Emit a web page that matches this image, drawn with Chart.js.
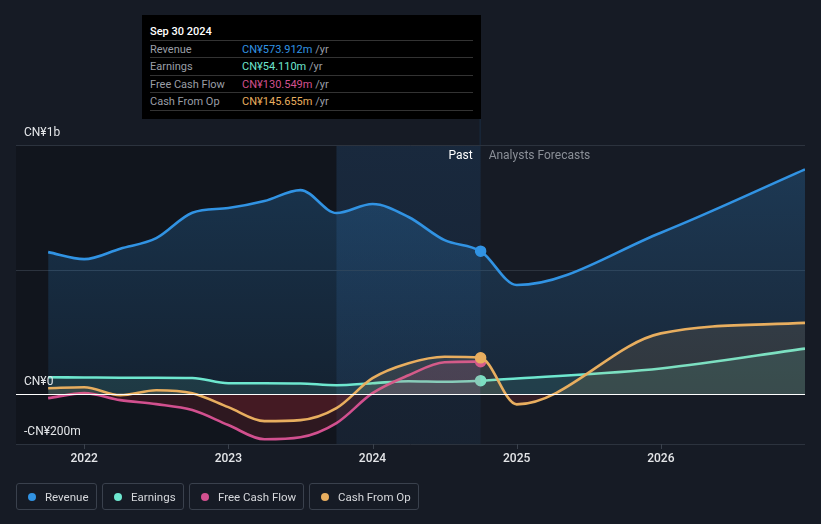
<!DOCTYPE html>
<html>
<head>
<meta charset="utf-8">
<script src="https://cdn.jsdelivr.net/npm/chart.js@4.4.1/dist/chart.umd.min.js"></script>
<style>
  html, body { margin: 0; padding: 0; background: #161b25; }
  body { width: 821px; height: 524px; position: relative; overflow: hidden; font-family: Roboto, "Noto Sans", sans-serif; }
  #wrap { position: absolute; left: 0; top: 0; width: 821px; height: 524px; }
  #tip { position: absolute; left: 142px; top: 15px; width: 339px; height: 104px; background: #000; box-sizing: border-box; padding: 9px 8px 0 8px; }
  #tip .title { color: #fff; font-size: 11px; font-weight: 500; height: 17px; line-height: 15px; box-sizing: border-box; border-bottom: 1px solid #333; }
  #tip .row { height: 17.4px; line-height: 17px; box-sizing: border-box; border-bottom: 1px solid #333; font-size: 11px; position: relative; color: #9a9ea6; }
  #tip .row .v { position: absolute; left: 92px; }
  #tip .row .v span { color: #9a9ea6; }
  #legend { position: absolute; left: 16px; top: 483px; display: flex; gap: 5px; }
  .item { height: 27px; box-sizing: border-box; border: 1px solid #3a414d; border-radius: 3px; color: #d6d8dc; font-size: 11.5px; display: flex; align-items: center; padding: 0 0 0 11px; white-space: nowrap; flex-shrink: 0; overflow: hidden; }
  .item i { display: inline-block; width: 8px; height: 8px; border-radius: 50%; margin-right: 9px; flex-shrink: 0; }
</style>
</head>
<body>
<div id="wrap"><canvas id="myChart" width="821" height="524"></canvas></div>
<div id="tip">
  <div class="title">Sep 30 2024</div>
  <div class="row">Revenue<span class="v" style="color:#3193e3">CN¥573.912m <span>/yr</span></span></div>
  <div class="row">Earnings<span class="v" style="color:#6ee7cf">CN¥54.110m <span>/yr</span></span></div>
  <div class="row">Free Cash Flow<span class="v" style="color:#d2508f">CN¥130.549m <span>/yr</span></span></div>
  <div class="row">Cash From Op<span class="v" style="color:#e8ae5f">CN¥145.655m <span>/yr</span></span></div>
</div>
<div id="legend">
  <div class="item" style="width:81px"><i style="background:#3193e3"></i>Revenue</div>
  <div class="item" style="width:82px"><i style="background:#6ee7cf"></i>Earnings</div>
  <div class="item" style="width:115px"><i style="background:#d2508f"></i>Free Cash Flow</div>
  <div class="item" style="width:110px"><i style="background:#e8ae5f"></i>Cash From Op</div>
</div>
<script>
// time axis in decimal years (quarter ends past, year ends forecast)
var pastDates = [2021.75, 2022.0, 2022.25, 2022.5, 2022.75, 2023.0, 2023.25, 2023.5, 2023.75, 2024.0, 2024.25, 2024.5, 2024.75];
var forecastDates = [2025.0, 2026.0, 2027.0];

// values in CN¥ millions
var revenuePast = [570, 542, 584, 626, 728, 747, 775, 819, 727, 763, 711, 618, 573.912];
var revenueForecast = [438, 648, 902];
var earningsPast = [68, 67, 66, 66, 65, 44, 44, 43, 36, 44, 52, 50, 54.11];
var earningsForecast = [63, 103, 183];
var fcfPast = [-16, 4, -24, -40, -64, -124, -181, -173, -116, 4, 76, 128, 130.549];
var cfoPast = [24, 28, -4, 16, 4, -52, -108, -104, -56, 64, 124, 150, 145.655];
var cfoForecast = [-41, 244, 286];

var xTicks = [2022, 2023, 2024, 2025, 2026];
var yTicks = [1000, 500, 0, -200];
var yLabels = { '1000': 'CN¥1b', '0': 'CN¥0', '-200': '-CN¥200m' };
var bandStart = 2023.75, bandEnd = 2024.75;

function toPoints(xs, ys) {
    return xs.map(function (x, i) { return { x: x, y: ys[i] }; });
}

function lastDot(n) {
    var r = [];
    for (var i = 0; i < n; i++) r.push(i == pastDates.length - 1 ? 5 : 0);
    return r;
}

var allDates = pastDates.concat(forecastDates);

var decor = {
    id: 'decor',
    beforeDraw: function (chart) {
        var c = chart.ctx;
        c.save();
        c.fillStyle = '#161b25';
        c.fillRect(0, 0, chart.width, chart.height);
        c.restore();
    },
    beforeDatasetsDraw: function (chart) {
        var c = chart.ctx, a = chart.chartArea, xs = chart.scales.x, ys = chart.scales.y;
        var b0 = xs.getPixelForValue(bandStart), b1 = xs.getPixelForValue(bandEnd);
        c.save();
        // darker past area
        c.fillStyle = 'rgba(0,0,0,0.2)';
        c.fillRect(a.left, a.top, b0 - a.left, a.bottom - a.top);
        // highlighted last year
        var g = c.createLinearGradient(0, a.top, 0, a.bottom);
        g.addColorStop(0, 'rgba(40,120,200,0.15)');
        g.addColorStop(1, 'rgba(40,120,200,0.07)');
        c.fillStyle = g;
        c.fillRect(b0, a.top, b1 - b0, a.bottom - a.top);
        c.fillStyle = 'rgba(40,120,200,0.18)';
        c.fillRect(b1 - 1, 118, 1, a.top - 118);
        // grid
        c.strokeStyle = '#2c333e';
        c.lineWidth = 1;
        yTicks.forEach(function (v) {
            if (v == 0) return;
            var y = Math.round(ys.getPixelForValue(v)) + 0.5;
            c.beginPath(); c.moveTo(a.left, y); c.lineTo(a.right, y); c.stroke();
        });
        c.strokeStyle = '#3a414c';
        xTicks.forEach(function (v) {
            var x = Math.round(xs.getPixelForValue(v)) + 0.5;
            c.beginPath(); c.moveTo(x, a.bottom); c.lineTo(x, a.bottom + 5); c.stroke();
        });
        c.restore();
    },
    afterDatasetsDraw: function (chart) {
        var c = chart.ctx, a = chart.chartArea, xs = chart.scales.x, ys = chart.scales.y;
        c.save();
        var z = Math.round(ys.getPixelForValue(0)) + 0.5;
        c.strokeStyle = '#ffffff';
        c.lineWidth = 1.2;
        c.beginPath(); c.moveTo(a.left, z); c.lineTo(a.right, z); c.stroke();
        c.font = '12px Roboto';
        c.textBaseline = 'middle';
        c.fillStyle = '#e4e6e9';
        Object.keys(yLabels).forEach(function (k) {
            var y = ys.getPixelForValue(Number(k));
            c.fillText(yLabels[k], 24, y - 12);
        });
        c.textAlign = 'center';
        c.font = '500 12px Roboto';
        xTicks.forEach(function (v) {
            c.fillText(String(v), xs.getPixelForValue(v), a.bottom + 15);
        });
        var b1 = xs.getPixelForValue(bandEnd);
        c.font = '12px Roboto';
        c.textAlign = 'right';
        c.fillStyle = '#ffffff';
        c.fillText('Past', b1 - 8, a.top + 11);
        c.textAlign = 'left';
        c.fillStyle = '#8a8f97';
        c.fillText('Analysts Forecasts', b1 + 8, a.top + 11);
        c.restore();
    }
};

function renderChart() {
    var ctx = document.getElementById('myChart').getContext('2d');
    var revFill = ctx.createLinearGradient(0, 145, 0, 394);
    revFill.addColorStop(0, 'rgba(49,147,227,0.26)');
    revFill.addColorStop(1, 'rgba(49,147,227,0.10)');

    var myChart = new Chart(ctx, {
        type: 'line',
        data: {
            datasets: [
                {
                    label: 'Cash From Op',
                    data: toPoints(allDates, cfoPast.concat(cfoForecast)),
                    borderColor: '#e8ae5f',
                    fill: { target: 'origin', above: 'rgba(232,174,95,0.12)', below: 'rgba(150,35,45,0.22)' },
                    pointRadius: lastDot(allDates.length),
                    pointBackgroundColor: '#e8ae5f',
                },
                {
                    label: 'Free Cash Flow',
                    data: toPoints(pastDates, fcfPast),
                    borderColor: '#d2508f',
                    fill: { target: 'origin', above: 'rgba(210,80,143,0.14)', below: 'rgba(150,35,45,0.22)' },
                    pointRadius: lastDot(pastDates.length),
                    pointBackgroundColor: '#d2508f',
                },
                {
                    label: 'Earnings',
                    data: toPoints(allDates, earningsPast.concat(earningsForecast)),
                    borderColor: '#6ee7cf',
                    fill: { target: 'origin', above: 'rgba(110,231,207,0.12)', below: 'rgba(110,231,207,0.12)' },
                    pointRadius: lastDot(allDates.length),
                    pointBackgroundColor: '#6ee7cf',
                },
                {
                    label: 'Revenue',
                    data: toPoints(allDates, revenuePast.concat(revenueForecast)),
                    borderColor: '#3193e3',
                    backgroundColor: revFill,
                    fill: 'origin',
                    pointRadius: lastDot(allDates.length),
                    pointBackgroundColor: '#3193e3',
                },
            ]
        },
        options: {
            responsive: false,
            animation: false,
            layout: { padding: { left: 16, right: 16, top: 145, bottom: 80 } },
            elements: {
                line: { borderWidth: 2.6, cubicInterpolationMode: 'monotone' },
                point: { borderColor: '#ffffff', borderWidth: 1.5, hoverRadius: 0 }
            },
            scales: {
                x: { type: 'linear', min: 2021.527, max: 2027.0, display: false },
                y: { min: -200, max: 1000, display: false }
            },
            plugins: { legend: { display: false }, tooltip: { enabled: false } },
            events: []
        },
        plugins: [decor]
    });
}

renderChart();
</script>
</body>
</html>
